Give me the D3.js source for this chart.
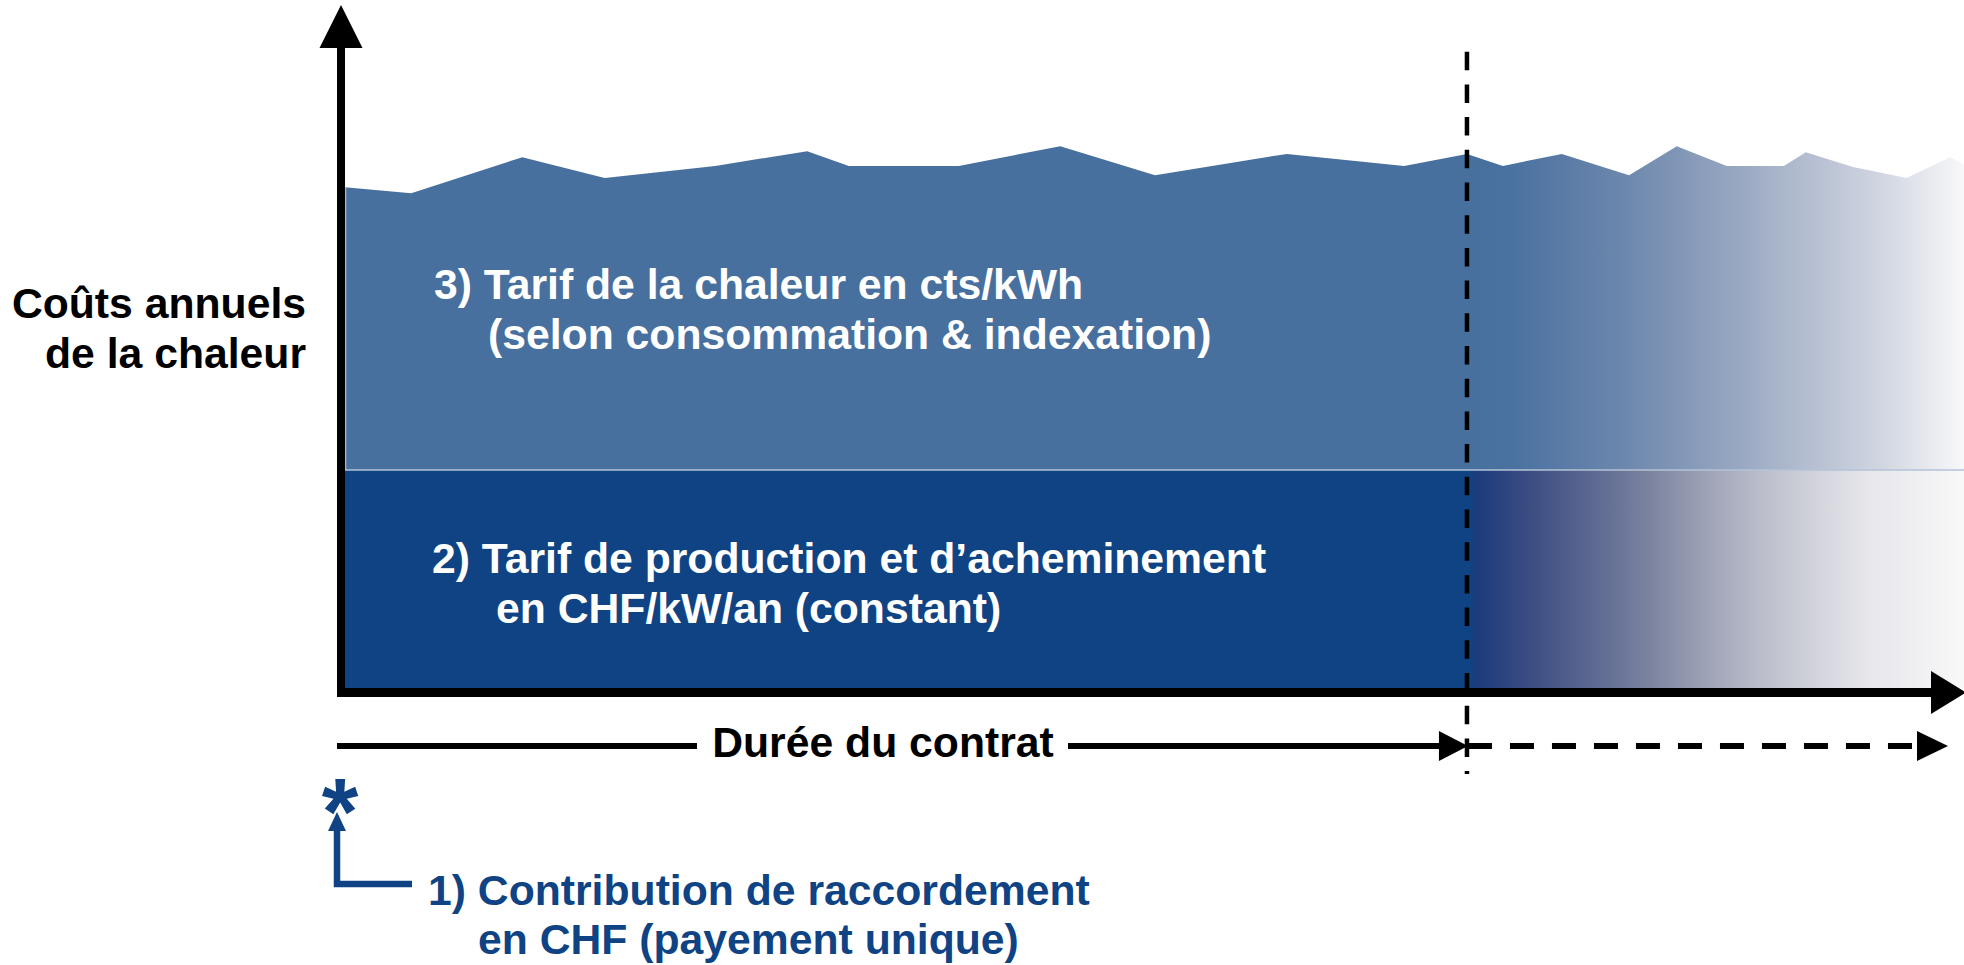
<!DOCTYPE html>
<html>
<head>
<meta charset="utf-8">
<script src="https://cdn.jsdelivr.net/npm/d3@7"></script>
<style>
  html, body { margin: 0; padding: 0; background: #fff; overflow: hidden; }
  svg text { font-family: "Liberation Sans", Arial, sans-serif; font-weight: bold; }
</style>
</head>
<body>
<div class="chart"></div>
<script>
// years along the contract, contract ends at year 20
var years = [0, 1.18, 3.16, 4.63, 6.6, 8.24, 8.98, 10.94, 12.75, 14.44, 16.79, 18.88, 20,
             20.64, 21.69, 22.89, 23.74, 24.63, 25.65, 26.04, 26.88, 27.84, 28.61, 28.86];
// total annual cost (fixed + consumption part), arbitrary units
var totalCost = [91.9, 90.8, 97.4, 93.6, 95.8, 98.5, 95.8, 95.8, 99.4, 94.1, 98.0, 95.8, 98.0,
                 95.8, 98.0, 94.1, 99.4, 95.8, 95.8, 98.3, 95.6, 93.6, 97.4, 96.1];
var fixedCost = 40;
var contractEnd = 20;
var maxYear = 28.86;

var yLabel = ['Coûts annuels', 'de la chaleur'];
var energyLabel = ['3) Tarif de la chaleur en cts/kWh', '(selon consommation & indexation)'];
var powerLabel = ['2) Tarif de production et d\u2019acheminement', 'en CHF/kW/an (constant)'];
var durationLabel = 'Durée du contrat';
var connectionLabel = ['1) Contribution de raccordement', 'en CHF (payement unique)'];

var width = 1964;
var height = 965;
var blue = '#0f4383';
var fs = 42.7;

var svg = d3.select('.chart').append('svg').attr('width', width).attr('height', height);
var defs = svg.append('defs');

var x = d3.scaleLinear().domain([0, maxYear]).range([345, 1964]);
var y = d3.scaleLinear().domain([0, 100]).range([688, 143]);

var fadeAt = (x(contractEnd) - x(0)) / (x(maxYear) - x(0));

// gradients: solid during the contract, fading afterwards
function gradient(id, stops) {
  var g = defs.append('linearGradient').attr('id', id)
    .attr('gradientUnits', 'userSpaceOnUse')
    .attr('x1', x(0)).attr('x2', x(maxYear)).attr('y1', 0).attr('y2', 0);
  g.selectAll('stop').data(stops).enter().append('stop')
    .attr('offset', function(d){ return d[0]; })
    .attr('stop-color', function(d){ return d[1]; });
}
gradient('upper', [
  [0, '#47709f'], [fadeAt + 0.002, '#47709f'], [fadeAt + 0.03, '#4b72a1'],
  [fadeAt + 0.1, '#6e88ad'], [fadeAt + 0.17, '#9aa9c2'], [fadeAt + 0.22, '#bac3d4'],
  [fadeAt + 0.26, '#d3d8e2'], [1, '#f8f8fa']
]);
gradient('lower', [
  [0, '#0f4383'], [fadeAt + 0.002, '#0f4383'], [fadeAt + 0.006, '#1c3b7c'],
  [fadeAt + 0.04, '#3c4e82'], [fadeAt + 0.08, '#5e6a92'], [fadeAt + 0.115, '#7d85a0'],
  [fadeAt + 0.15, '#a0a4b7'], [fadeAt + 0.185, '#bdc0cc'], [fadeAt + 0.22, '#d5d6de'],
  [fadeAt + 0.25, '#e7e7ec'], [1, '#f8f8f8']
]);

var points = years.map(function(t, i){ return {t: t, v: totalCost[i]}; });

// 3) consumption part on top of the fixed part
var area = d3.area()
  .x(function(d){ return x(d.t); })
  .y0(y(fixedCost))
  .y1(function(d){ return y(d.v); });
svg.append('path').datum(points).attr('d', area).attr('fill', 'url(#upper)');

// 2) constant fixed part
svg.append('rect')
  .attr('x', x(0)).attr('y', y(fixedCost))
  .attr('width', x(maxYear) - x(0)).attr('height', y(0) - y(fixedCost))
  .attr('fill', 'url(#lower)');

svg.append('line')
  .attr('x1', x(0)).attr('x2', x(maxYear)).attr('y1', y(fixedCost)).attr('y2', y(fixedCost))
  .attr('stroke', '#b3c3d7').attr('stroke-width', 1.5);
svg.append('line')
  .attr('x1', x(0) + 0.7).attr('x2', x(0) + 0.7).attr('y1', y(totalCost[0])).attr('y2', y(fixedCost))
  .attr('stroke', '#a9bbd2').attr('stroke-width', 1.2);

// axes
var x0 = x(0) - 4;
svg.append('line').attr('x1', x0).attr('x2', x0).attr('y1', 697).attr('y2', 46)
  .attr('stroke', '#000').attr('stroke-width', 8);
svg.append('path').attr('d', 'M' + x0 + ',5L' + (x0 - 21.5) + ',48L' + (x0 + 21.5) + ',48Z').attr('fill', '#000');
svg.append('line').attr('x1', x0 - 4).attr('x2', 1933).attr('y1', 692.5).attr('y2', 692.5)
  .attr('stroke', '#000').attr('stroke-width', 9);
svg.append('path').attr('d', 'M1966,692.5L1931,671L1931,714Z').attr('fill', '#000');

// end of contract
var xe = x(contractEnd);
svg.append('line').attr('x1', xe).attr('x2', xe).attr('y1', 51.7).attr('y2', 774)
  .attr('stroke', '#000').attr('stroke-width', 4.5).attr('stroke-dasharray', '18.5,14.2');

// duration arrow
var yd = 746;
svg.append('line').attr('x1', x0 - 4).attr('x2', 697).attr('y1', yd).attr('y2', yd)
  .attr('stroke', '#000').attr('stroke-width', 6);
svg.append('line').attr('x1', 1068).attr('x2', xe - 26).attr('y1', yd).attr('y2', yd)
  .attr('stroke', '#000').attr('stroke-width', 6);
svg.append('path').attr('d', 'M' + (xe + 1) + ',' + yd + 'L' + (xe - 28) + ',' + (yd - 15) + 'L' + (xe - 28) + ',' + (yd + 15) + 'Z').attr('fill', '#000');
svg.append('line').attr('x1', xe + 1).attr('x2', 1917).attr('y1', yd).attr('y2', yd)
  .attr('stroke', '#000').attr('stroke-width', 6).attr('stroke-dasharray', '24,18');
svg.append('path').attr('d', 'M1948,' + yd + 'L1917,' + (yd - 15) + 'L1917,' + (yd + 15) + 'Z').attr('fill', '#000');
svg.append('text').attr('x', 883).attr('y', 757).attr('text-anchor', 'middle')
  .attr('font-size', fs).attr('fill', '#000').text(durationLabel);

// y label
svg.append('g').selectAll('text').data(yLabel).enter().append('text')
  .attr('x', 306).attr('y', function(d, i){ return 318 + i * 50; })
  .attr('text-anchor', 'end').attr('font-size', fs).attr('fill', '#000')
  .text(function(d){ return d; });

// band labels
svg.append('g').selectAll('text').data(energyLabel).enter().append('text')
  .attr('x', function(d, i){ return i ? 488 : 434; })
  .attr('y', function(d, i){ return 299 + i * 50; })
  .attr('font-size', fs).attr('fill', '#fff')
  .text(function(d){ return d; });
svg.append('g').selectAll('text').data(powerLabel).enter().append('text')
  .attr('x', function(d, i){ return i ? 496 : 432; })
  .attr('y', function(d, i){ return 573 + i * 50; })
  .attr('font-size', fs).attr('fill', '#fff')
  .text(function(d){ return d; });

// 1) one-off connection fee
svg.append('text').attr('x', 340).attr('y', 844).attr('text-anchor', 'middle')
  .attr('font-size', 94).attr('fill', blue).text('*');
svg.append('path').attr('d', 'M412,884H337V828').attr('fill', 'none')
  .attr('stroke', blue).attr('stroke-width', 6.5);
svg.append('path').attr('d', 'M337,812L328,831L346,831Z').attr('fill', blue);
svg.append('g').selectAll('text').data(connectionLabel).enter().append('text')
  .attr('x', function(d, i){ return i ? 478 : 428; })
  .attr('y', function(d, i){ return 905 + i * 49; })
  .attr('font-size', fs).attr('fill', blue)
  .text(function(d){ return d; });
</script>
</body>
</html>
